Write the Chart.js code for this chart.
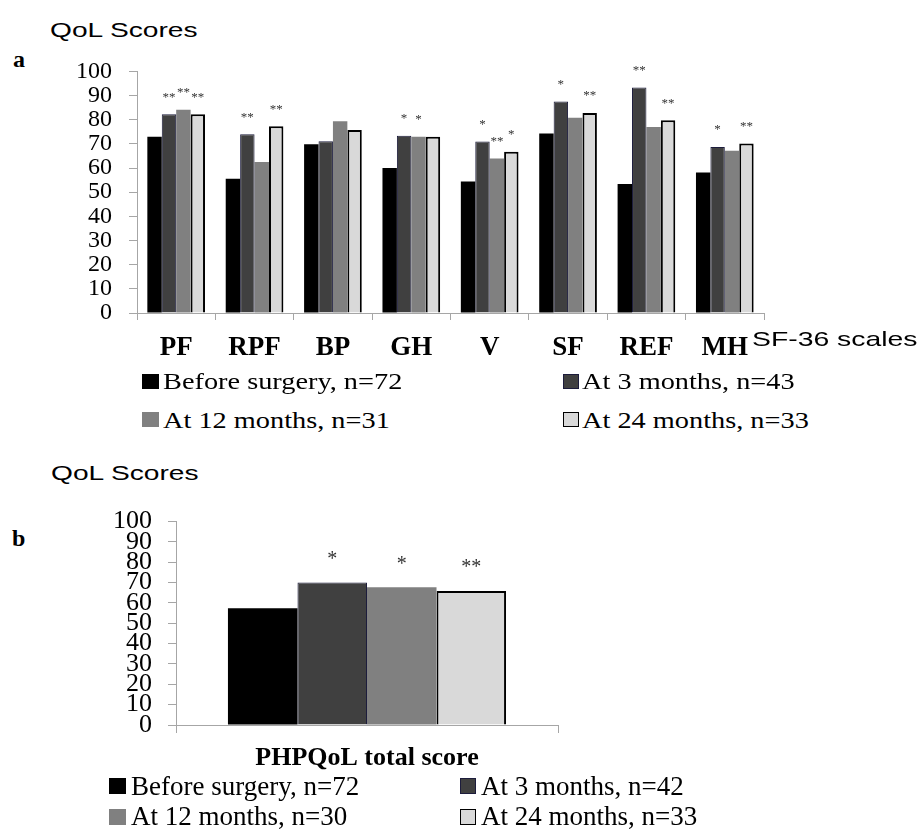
<!DOCTYPE html>
<html lang="en">
<head>
  <meta charset="UTF-8" />
  <title>QoL Scores</title>
  <script src="https://cdn.jsdelivr.net/npm/chart.js"></script>
  <style>
    body { margin: 0; background: #fff; }
    #page { position: relative; width: 919px; height: 830px; overflow: hidden; background: #fff; }
    .abs { position: absolute; white-space: nowrap; line-height: 1; }
    .sans { font-family: 'Liberation Sans', Arial, sans-serif; color: #000; }
    .serif { font-family: 'Liberation Serif', 'Times New Roman', serif; color: #000; }
    .stretch { transform-origin: 0 0; }
    .sq { position: absolute; box-sizing: border-box; }
    canvas { position: absolute; left: 0; }
  </style>
</head>
<body>
<div id="page">
  <div class="abs sans stretch" style="left:50px; top:19px; font-size:21px; transform:scaleX(1.34);">QoL Scores</div>
  <div class="abs serif" style="left:13px; top:47px; font-size:24px; font-weight:bold;">a</div>
  <canvas id="chartA" width="919" height="340" style="top:40px;"></canvas>
  <div class="abs sans stretch" style="left:752px; top:328px; font-size:21px; transform:scaleX(1.35);">SF-36 scales</div>

  <div class="sq" style="left:142px; top:374px; width:17px; height:15px; background:#000;"></div>
  <div class="abs serif stretch" style="left:163px; top:369px; font-size:24px; transform:scaleX(1.18);">Before surgery, n=72</div>
  <div class="sq" style="left:563px; top:374px; width:16px; height:15px; background:#404040; border:1px solid #1c1c3c;"></div>
  <div class="abs serif stretch" style="left:582px; top:369px; font-size:24px; transform:scaleX(1.18);">At 3 months, n=43</div>
  <div class="sq" style="left:142px; top:412px; width:17px; height:15px; background:#808080;"></div>
  <div class="abs serif stretch" style="left:163px; top:408px; font-size:24px; transform:scaleX(1.18);">At 12 months, n=31</div>
  <div class="sq" style="left:563px; top:412px; width:16px; height:15px; background:#d9d9d9; border:1.5px solid #000;"></div>
  <div class="abs serif stretch" style="left:582px; top:408px; font-size:24px; transform:scaleX(1.18);">At 24 months, n=33</div>

  <div class="abs sans stretch" style="left:51px; top:462px; font-size:21px; transform:scaleX(1.34);">QoL Scores</div>
  <div class="abs serif" style="left:12px; top:526px; font-size:24px; font-weight:bold;">b</div>
  <canvas id="chartB" width="919" height="300" style="top:490px;"></canvas>

  <div class="sq" style="left:109px; top:778px; width:17px; height:16px; background:#000;"></div>
  <div class="abs serif" style="left:131px; top:773px; font-size:27px;">Before surgery, n=72</div>
  <div class="sq" style="left:460px; top:778px; width:16px; height:16px; background:#404040; border:1px solid #1c1c3c;"></div>
  <div class="abs serif" style="left:481px; top:773px; font-size:27px;">At 3 months, n=42</div>
  <div class="sq" style="left:109px; top:809px; width:17px; height:16px; background:#808080;"></div>
  <div class="abs serif" style="left:131px; top:803px; font-size:27px;">At 12 months, n=30</div>
  <div class="sq" style="left:460px; top:809px; width:16px; height:16px; background:#d9d9d9; border:1.5px solid #000;"></div>
  <div class="abs serif" style="left:481px; top:803px; font-size:27px;">At 24 months, n=33</div>
</div>

<script>
  // SF-36 scales (panel a)
  const scalesA = ['PF', 'RPF', 'BP', 'GH', 'V', 'SF', 'REF', 'MH'];
  const beforeA = [73, 55.6, 69.8, 60, 54.4, 74.3, 53.4, 58.2];
  const month3A = [82.3, 74, 71.1, 73.4, 71, 87.5, 93.3, 68.7];
  const month12A = [84.1, 62.5, 79.4, 73, 64, 80.8, 77, 67.2];
  const month24A = [82.3, 77.3, 75.7, 73, 66.7, 82.8, 79.8, 70.2];
  const starsBeforeA = ['', '', '', '', '', '', '', ''];
  const stars3A = ['**', '**', '', '*', '*', '*', '**', '*'];
  const stars12A = ['**', '', '', '*', '**', '', '', ''];
  const stars24A = ['**', '**', '', '', '*', '**', '**', '**'];

  // PHPQoL total (panel b)
  const scalesB = ['PHPQoL total score'];
  const beforeB = [57.4];
  const month3B = [70.1];
  const month12B = [67.7];
  const month24B = [65.9];
  const starsBeforeB = [''];
  const stars3B = ['*'];
  const stars12B = ['*'];
  const stars24B = ['**'];

  const yTicks = [0, 10, 20, 30, 40, 50, 60, 70, 80, 90, 100];

  const SERIF = "'Liberation Serif', 'Times New Roman', serif";
  const AXIS_GREY = '#a6a6a6';

  function seriesSets(before, m3, m12, m24, stars) {
    return [
      { data: before, backgroundColor: '#000000', borderWidth: 0, stars: stars[0] },
      { data: m3, backgroundColor: '#404040', borderColor: '#1c1c3c', borderWidth: 1, stars: stars[1] },
      { data: m12, backgroundColor: '#808080', borderWidth: 0, stars: stars[2] },
      { data: m24, backgroundColor: '#d9d9d9', borderColor: '#000000', borderWidth: 2, stars: stars[3] }
    ];
  }

  // writes the significance stars above each bar
  const starPlugin = {
    id: 'stars',
    afterDatasetsDraw(chart, args, opts) {
      const ctx = chart.ctx;
      ctx.save();
      ctx.font = opts.size + 'px ' + SERIF;
      ctx.fillStyle = '#333';
      ctx.textAlign = 'center';
      ctx.textBaseline = 'middle';
      chart.data.datasets.forEach((ds, i) => {
        chart.getDatasetMeta(i).data.forEach((bar, j) => {
          const s = ds.stars[j];
          if (s) ctx.fillText(s, bar.x, bar.y - opts.gap);
        });
      });
      ctx.restore();
    }
  };

  function makeChart(id, labels, datasets, cfg) {
    return new Chart(document.getElementById(id), {
      type: 'bar',
      data: { labels, datasets },
      plugins: [starPlugin],
      options: {
        responsive: false,
        animation: false,
        devicePixelRatio: 1,
        layout: { padding: { left: 0, right: cfg.right, top: cfg.top, bottom: 0 } },
        datasets: { bar: { categoryPercentage: cfg.catPct, barPercentage: 1 } },
        plugins: {
          legend: { display: false },
          tooltip: { enabled: false },
          stars: { size: cfg.starSize, gap: cfg.starGap }
        },
        scales: {
          x: {
            afterFit(scale) { scale.height = cfg.xHeight; },
            grid: { display: true, drawOnChartArea: false, drawTicks: true, tickLength: cfg.xTick, color: AXIS_GREY, offset: true },
            border: { display: true, color: AXIS_GREY, width: 1 },
            ticks: { color: '#000', padding: cfg.xPad, maxRotation: 0, autoSkip: false,
                     font: { family: SERIF, size: cfg.xFont, weight: 'bold' } }
          },
          y: {
            min: 0, max: 100,
            afterFit(scale) { scale.width = cfg.left; },
            afterBuildTicks(scale) { scale.ticks = yTicks.map(v => ({ value: v })); },
            grid: { display: true, drawOnChartArea: false, drawTicks: true, tickLength: 8, color: AXIS_GREY },
            border: { display: true, color: AXIS_GREY, width: 1 },
            ticks: { color: '#000', padding: cfg.yPad, autoSkip: false,
                     font: { family: SERIF, size: cfg.yFont } }
          }
        }
      }
    });
  }

  makeChart('chartA', scalesA,
    seriesSets(beforeA, month3A, month12A, month24A, [starsBeforeA, stars3A, stars12A, stars24A]),
    { left: 137, right: 155, top: 25, xHeight: 67, xTick: 7, xPad: 12, xFont: 27,
      yPad: 17, yFont: 24, catPct: 0.736, starSize: 13, starGap: 17 });

  makeChart('chartB', scalesB,
    seriesSets(beforeB, month3B, month12B, month24B, [starsBeforeB, stars3B, stars12B, stars24B]),
    { left: 176, right: 361, top: 30, xHeight: 65, xTick: 8, xPad: 10, xFont: 26,
      yPad: 16, yFont: 26, catPct: 0.728, starSize: 20, starGap: 23 });
</script>
</body>
</html>
